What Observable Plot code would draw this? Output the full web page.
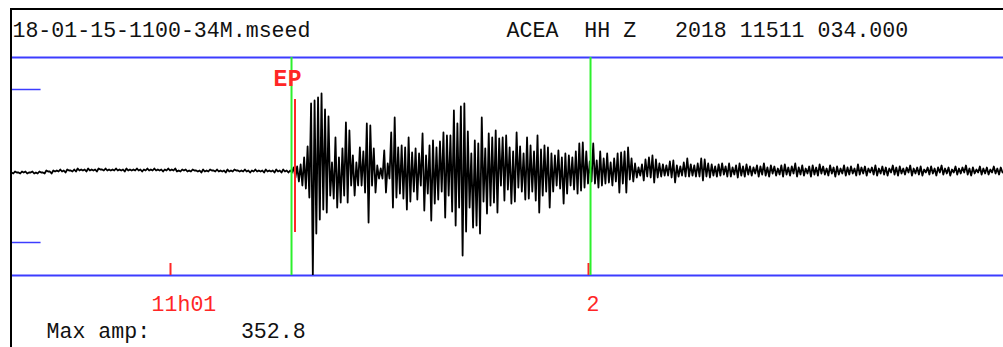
<!DOCTYPE html>
<html><head><meta charset="utf-8">
<script src="https://cdn.jsdelivr.net/npm/d3@7"></script>
<script src="https://cdn.jsdelivr.net/npm/@observablehq/plot@0.6"></script>
<style>
html,body{margin:0;padding:0;background:#fff;}
#wrap{width:1003px;height:347px;padding-top:8px;box-sizing:border-box;overflow:hidden;}
#panel{margin-left:10px;width:993px;height:339px;border-top:2px solid #000;border-left:2px solid #000;box-sizing:border-box;overflow:hidden;}
#panel svg{display:block;}
</style></head><body><div id="wrap"><div id="panel"></div></div>
<script>
// ---- header / caption texts
const headerFile = "2018-01-15-1100-34M.mseed";
const headerStation = "ACEA  HH Z   2018 11511 034.000";
const maxAmpText = "Max amp:       352.8";
const maxAmp = 352.8;

// ---- time axis (seconds after 11:00:00)
const tStart = 37.32, tEnd = 179.57;       // visible window
const tickTimes = [60, 120];
const tickLabels = ["11h01", "2"];
const windowTimes = [77.37, 120.29];      // green analysis window
const pickTime = 77.87, pickLabel = "EP"; // P-phase pick
const pickSpan = [72, -61];

// ---- amplitude (display units, 0 = trace mean)
const yDomain = [-104, 114];
const gainMarks = [82, -71];

// ---- trace samples (start time, interval, values)
const traceT0 = 37.18, traceDt = 0.25;
const trace = [
-1,-2, 0,-1, -1,-2, 0,-1, 0,-2, -1,-1, 0,-2, -1,-2, 0,-1, -1,-2,
1,0, 0,-2, 1,0, 1,0, 2,0, 1,-1, 2,1, 1,0, 2,0, 3,1,
2,1, 2,0, 3,1, 2,1, 2,0, 3,2, 2,1, 3,1, 2,1, 2,1,
3,1, 2,1, 2,0, 3,1, 2,1, 2,1, 3,1, 2,0, 2,1, 3,1,
2,1, 3,1, 2,1, 2,0, 2,1, 3,1, 2,1, 3,0, 1,0, 2,1,
2,0, 1,0, 2,1, 1,0, 1,-1, 2,0, 1,0, 2,1, 1,0, 2,0,
1,0, 1,-1, 2,0, 1,0, 2,1, 1,0, 1,0, 2,0, 1,-1, 1,0,
2,0, 1,0, 1,-1, 2,0, 1,0, 1,-1, 2,0, 1,-1, 2,0, 1,-1,
1,-1, 4,-6, 5,-10, 7,-14, 14,-17, 25,-26, 68,-104, 71,-62, 74,-48, 78,-38,
62,-41, 55,-24, 9,-27, 34,-36, 14,-31, 23,-24, 49,-31, 41,-14, 16,-24, 9,-14,
24,-14, 20,-21, 48,-51, 46,-14, 23,-21, 6,-7, 3,-7, 21,-21, 8,-7, 39,-36,
54,-26, 24,-22, 26,-27, 24,-38, 34,-30, 19,-20, 23,-28, 18,-14, 38,-39, 16,-22,
26,-49, 31,-32, 24,-28, 30,-20, 39,-46, 36,-24, 36,-40, 61,-54, 48,-36, 65,-84,
68,-60, 40,-36, 18,-56, 31,-54, 28,-62, 54,-30, 23,-42, 38,-34, 34,-31, 41,-41,
33,-14, 34,-29, 36,-18, 24,-32, 20,-30, 39,-16, 25,-20, 18,-28, 34,-27, 26,-20,
20,-29, 36,-41, 22,-24, 26,-20, 24,-36, 18,-20, 16,-14, 21,-17, 14,-32, 18,-22,
16,-14, 14,-18, 20,-22, 28,-19, 29,-16, 20,-12, 10,-10, 28,-12, 11,-16, 20,-14,
13,-12, 18,-11, 9,-14, 13,-10, 18,-21, 19,-12, 20,-21, 24,-8, 13,-10, 8,-6,
4,-4, 7,-9, 12,-5, 14,-6, 16,-11, 12,-6, 8,-5, 7,-4, 6,-4, 10,-6,
11,-11, 6,-5, 5,-4, 9,-5, 13,-5, 7,-4, 6,-5, 8,-5, 13,-9, 12,-5,
8,-6, 7,-4, 5,-5, 7,-4, 8,-3, 5,-5, 8,-5, 4,-3, 6,-6, 8,-4,
5,-5, 7,-3, 5,-4, 4,-2, 6,-5, 5,-3, 8,-4, 4,-5, 6,-2, 5,-4,
3,-3, 6,-5, 7,-3, 4,-4, 5,-2, 8,-5, 4,-3, 6,-4, 3,-2, 5,-5,
6,-3, 4,-4, 7,-2, 5,-3, 3,-4, 6,-2, 4,-5, 5,-3, 3,-2, 6,-4,
4,-3, 5,-2, 3,-4, 7,-3, 4,-2, 5,-4, 3,-1, 4,-3, 6,-4, 3,-2,
5,-3, 4,-4, 3,-1, 6,-3, 4,-4, 5,-2, 3,-3, 4,-1, 6,-4, 3,-2,
4,-3, 5,-4, 2,-1, 4,-3, 5,-2, 3,-4, 4,-1, 6,-3, 3,-2, 4,-4,
2,-1, 5,-3, 3,-2, 4,-1, 6,-3, 3,-4, 4,-2, 2,-1, 5,-3, 3,-2,
4,-3, 2,-1, 5,-2, 3,-3, 4,-1
];

const samples = trace.map((a, i) => ({t: traceT0 + i * traceDt, a}));

const blue = "#3c3cff", red = "#ff2626", green = "#2cf02c";
const mono = "Liberation Mono, Courier New, monospace";

const chart = Plot.plot({
  width: 991,
  height: 337,
  marginTop: 47,
  marginBottom: 72,
  marginLeft: 0,
  marginRight: 0,
  x: {domain: [tStart, tEnd], axis: null},
  y: {domain: yDomain, axis: null},
  marks: [
    Plot.ruleY(yDomain, {stroke: blue, strokeWidth: 2}),
    Plot.ruleY(gainMarks, {x1: tStart, x2: tStart + 4.1, stroke: blue, strokeWidth: 1.5}),
    Plot.ruleX(tickTimes, {y1: yDomain[0] + 12, y2: yDomain[0], stroke: red, strokeWidth: 2}),
    Plot.line(samples, {x: "t", y: "a", stroke: "#000", strokeWidth: 1.8, clip: true}),
    Plot.ruleX(windowTimes, {stroke: green, strokeWidth: 2}),
    Plot.ruleX([pickTime], {y1: pickSpan[0], y2: pickSpan[1], stroke: red, strokeWidth: 2}),
    Plot.text([pickLabel], {x: pickTime, y: 86, text: d => d, textAnchor: "end", lineAnchor: "bottom",
      dx: 7, fill: red, fontFamily: mono, fontSize: 23, fontWeight: "bold"}),
    // x tick labels
    Plot.text([tickLabels[0]], {x: tickTimes[0], frameAnchor: "bottom", text: d => d, textAnchor: "start",
      lineAnchor: "bottom", dx: -19, dy: 35, fill: red, fontFamily: mono, fontSize: 21.6}),
    Plot.text([tickLabels[1]], {x: tickTimes[1], frameAnchor: "bottom", text: d => d, textAnchor: "start",
      lineAnchor: "bottom", dx: -2, dy: 35, fill: red, fontFamily: mono, fontSize: 21.6}),
    // header
    Plot.text([headerFile], {frameAnchor: "top-left", text: d => d, textAnchor: "start", lineAnchor: "bottom",
      dx: -26, dy: -21, fill: "#111", fontFamily: mono, fontSize: 21.6}),
    Plot.text([headerStation], {frameAnchor: "top-left", text: d => d, textAnchor: "start", lineAnchor: "bottom",
      dx: 494, dy: -21, fill: "#111", fontFamily: mono, fontSize: 21.6}),
    // caption
    Plot.text([maxAmpText], {frameAnchor: "bottom-left", text: d => d, textAnchor: "start", lineAnchor: "bottom",
      dx: 34, dy: 62, fill: "#111", fontFamily: mono, fontSize: 21.6})
  ]
});
d3.select(chart).selectAll("text")
  .filter(function () { return this.textContent === pickLabel; })
  .style("letter-spacing", "0.5px");
document.getElementById("panel").appendChild(chart);
</script></body></html>
